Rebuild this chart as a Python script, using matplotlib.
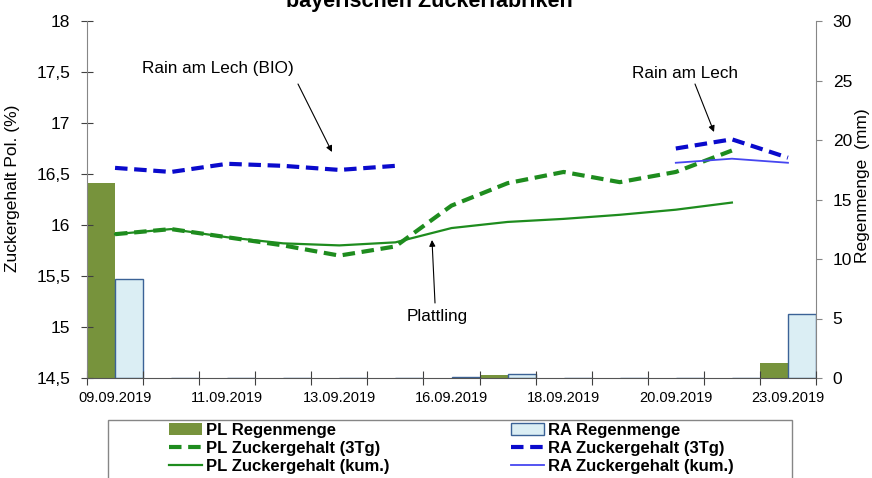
import numpy as np
import matplotlib.pyplot as plt
from matplotlib.patches import Rectangle

plt.rcParams['font.family'] = ['Liberation Sans', 'DejaVu Sans']

####### data

dates = ['09.09.2019', '10.09.2019', '11.09.2019', '12.09.2019', '13.09.2019', '14.09.2019',
         '16.09.2019', '17.09.2019', '18.09.2019', '19.09.2019', '20.09.2019', '21.09.2019',
         '23.09.2019']

pl_regen = [16.4, 0, 0, 0, 0, 0, 0, 0.25, 0, 0, 0, 0, 1.26]
ra_regen = [8.3, 0, 0, 0, 0, 0, 0.1, 0.35, 0, 0, 0, 0, 5.36]

nan = np.nan
pl_3tg = [15.91, 15.96, 15.88, 15.80, 15.70, 15.79, 16.19, 16.41, 16.52, 16.42, 16.52, 16.73, nan]
pl_kum = [15.91, 15.96, 15.88, 15.82, 15.80, 15.83, 15.97, 16.03, 16.06, 16.10, 16.15, 16.22, nan]
ra_3tg = [16.56, 16.52, 16.60, 16.58, 16.54, 16.58, nan, nan, nan, nan, 16.75, 16.84, 16.66]
ra_kum = [nan, nan, nan, nan, nan, nan, nan, nan, nan, nan, 16.61, 16.65, 16.61]

x = np.arange(len(dates))

c_pl_bar = '#77933C'
c_ra_bar = '#DBEEF4'
c_ra_edge = '#3B6296'
c_pl_line = '#1E8C1E'
c_ra_dash = '#0A0ACC'
c_ra_line = '#4646F0'
c_axis = '#868686'

fig = plt.figure(figsize=(8.72, 4.78), dpi=100)
ax = fig.add_axes([87/872, 1-378/478, 729/872, 357/478])
ax2 = ax.twinx()

############## bars on the right axis

b1 = ax2.bar(x-0.25, pl_regen, width=0.5, color=c_pl_bar, edgecolor='none', label='PL Regenmenge')
b2 = ax2.bar(x+0.25, ra_regen, width=0.5, color=c_ra_bar, edgecolor=c_ra_edge, linewidth=1.0,
             label='RA Regenmenge')

############## lines on the left axis

l1, = ax.plot(x, pl_3tg, color=c_pl_line, lw=3, dashes=(3, 1.6), label='PL Zuckergehalt (3Tg)')
l2, = ax.plot(x, pl_kum, color=c_pl_line, lw=1.6, label='PL Zuckergehalt (kum.)')
l3, = ax.plot(x, ra_3tg, color=c_ra_dash, lw=3, dashes=(3, 1.6), label='RA Zuckergehalt (3Tg)')
l4, = ax.plot(x, ra_kum, color=c_ra_line, lw=1.3, label='RA Zuckergehalt (kum.)')

ax.set_zorder(ax2.get_zorder()+1)
ax.patch.set_visible(False)

ax.set_xlim(-0.5, len(dates)-0.5)
ax.set_ylim(14.5, 18)
ax2.set_ylim(0, 30)

ax.set_yticks(np.arange(14.5, 18.01, 0.5))
ax.set_yticklabels([('%g' % v).replace('.', ',') for v in np.arange(14.5, 18.01, 0.5)])
ax2.set_yticks(np.arange(0, 31, 5))

ax.set_xticks(np.arange(-0.5, len(dates), 1))
ax.set_xticklabels([])
ax.set_xticks(x[::2], minor=True)
ax.set_xticklabels(dates[::2], minor=True, fontsize=10.5)
ax.tick_params(axis='x', which='minor', length=0, pad=9)
ax.tick_params(axis='x', which='major', direction='inout', length=10, color='#404040')
ax.tick_params(axis='y', direction='inout', length=9, pad=7.5, labelsize=12.5, color='#404040')
ax2.tick_params(axis='y', direction='out', length=4, pad=8, labelsize=12.5, color=c_axis)

for s in ['top', 'right']:
    ax.spines[s].set_visible(False)
ax2.spines['top'].set_visible(False)
ax2.spines['left'].set_visible(False)
ax2.spines['bottom'].set_visible(False)
ax.spines['left'].set_color(c_axis)
ax.spines['bottom'].set_color('#555555')
ax2.spines['right'].set_color(c_axis)

ax.set_ylabel('Zuckergehalt Pol. (%)', fontsize=12.5)
ax.yaxis.set_label_coords(-0.092, 0.53)
ax2.set_ylabel('Regenmenge  (mm)', fontsize=12.5)
ax2.yaxis.set_label_coords(1.054, 0.54)

########## annotations (figure pixels, y from bottom)

H = 478
arrow = dict(arrowstyle='-|>', color='black', lw=0.8, mutation_scale=9, shrinkA=0, shrinkB=0)
ax.annotate('', xy=(332, H-152), xytext=(298, H-84), xycoords='figure pixels', arrowprops=arrow)
ax.annotate('', xy=(714, H-132), xytext=(695, H-84), xycoords='figure pixels', arrowprops=arrow)
ax.annotate('', xy=(432, H-240), xytext=(435, H-303), xycoords='figure pixels', arrowprops=arrow)
fig.text(218/872, 1-68/478, 'Rain am Lech (BIO)', ha='center', va='center', fontsize=12.3)
fig.text(685/872, 1-73/478, 'Rain am Lech', ha='center', va='center', fontsize=12.3)
fig.text(437/872, 1-316/478, 'Plattling', ha='center', va='center', fontsize=12.3)

fig.text(429/872, 1-7/478, 'bayerischen Zuckerfabriken', ha='center', va='baseline',
         fontsize=15.5, fontweight='bold')

################# legend

fig.patches.append(Rectangle((108/872, -0.1), (792-108)/872, 0.1+(478-420)/478,
                             transform=fig.transFigure, fill=False, edgecolor=c_axis, lw=1))
leg = fig.legend([b1, l1, l2, b2, l3, l4],
                 ['PL Regenmenge', 'PL Zuckergehalt (3Tg)', 'PL Zuckergehalt (kum.)',
                  'RA Regenmenge', 'RA Zuckergehalt (3Tg)', 'RA Zuckergehalt (kum.)'],
                 ncol=2, loc='upper left', bbox_to_anchor=(169/872, 1-423/478), frameon=False,
                 prop={'weight': 'bold', 'size': 12}, handlelength=2.0, handletextpad=0.2,
                 labelspacing=0.17, columnspacing=7.3, borderpad=0, borderaxespad=0)

fig.savefig('out.png', dpi=100)
